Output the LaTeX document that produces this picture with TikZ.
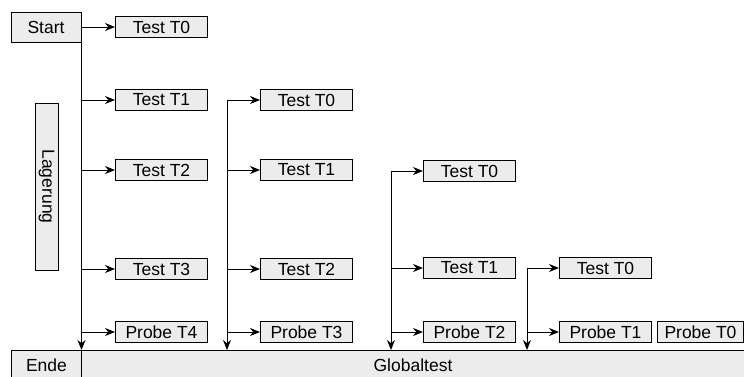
\documentclass[tikz,border=0pt]{standalone}
\usepackage{fontspec}
\setmainfont{Liberation Sans}
\usetikzlibrary{arrows.meta}
\definecolor{boxgray}{RGB}{236,236,236}
\begin{document}
\begin{tikzpicture}[x=1pt,y=-1pt,
  box/.style={draw, line width=1pt, fill=boxgray, inner sep=0pt, minimum height=21pt, font=\fontsize{17.5}{20}\selectfont},
  tbox/.style={box, minimum width=92pt, anchor=west},
  arr/.style={line width=1pt, -{Stealth[length=10pt,width=8pt]}}]
\useasboundingbox (0,0) rectangle (744,376);
% big boxes
\node[box, minimum width=70pt, minimum height=30pt] (start) at (46,27) {Start};
\node[box, minimum width=70pt, minimum height=30pt, anchor=north west] (ende) at (11,350) {Ende};
\node[box, minimum width=663pt, minimum height=30pt, anchor=north west] (global) at (81,350) {Globaltest};
\node[box, minimum width=167pt, minimum height=23pt, rotate=-90] (lager) at (46.5,186.5) {Lagerung};
% column 1
\node[tbox] (a0) at (115,27) {Test T0};
\node[tbox] (a1) at (115,100) {Test T1};
\node[tbox] (a2) at (115,170) {Test T2};
\node[tbox] (a3) at (115,269) {Test T3};
\node[tbox] (a4) at (115,332) {Probe T4};
% column 2
\node[tbox] (b0) at (260,100) {Test T0};
\node[tbox] (b1) at (260,170) {Test T1};
\node[tbox] (b2) at (260,269) {Test T2};
\node[tbox] (b3) at (260,332) {Probe T3};
% column 3
\node[tbox] (c0) at (423,171) {Test T0};
\node[tbox] (c1) at (423,268) {Test T1};
\node[tbox] (c2) at (423,332) {Probe T2};
% column 4
\node[tbox] (d0) at (559,268) {Test T0};
\node[tbox] (d1) at (559,332) {Probe T1};
\node[tbox, minimum width=86pt] (e0) at (657,332) {Probe T0};
% connectors column 1
\draw[arr] (start.south east) -- (start.south east |- global.north);
\foreach \n in {a0,a1,a2,a3,a4} \draw[arr] (start.east |- \n) -- (\n.west);
% column 2
\coordinate (k2) at (227,100);
\draw[arr] (k2) -- (k2 |- global.north);
\foreach \n in {b0,b1,b2,b3} \draw[arr] (k2 |- \n) -- (\n.west);
% column 3
\coordinate (k3) at (391,171);
\draw[arr] (k3) -- (k3 |- global.north);
\foreach \n in {c0,c1,c2} \draw[arr] (k3 |- \n) -- (\n.west);
% column 4
\coordinate (k4) at (527,268);
\draw[arr] (k4) -- (k4 |- global.north);
\foreach \n in {d0,d1} \draw[arr] (k4 |- \n) -- (\n.west);
\end{tikzpicture}
\end{document}
